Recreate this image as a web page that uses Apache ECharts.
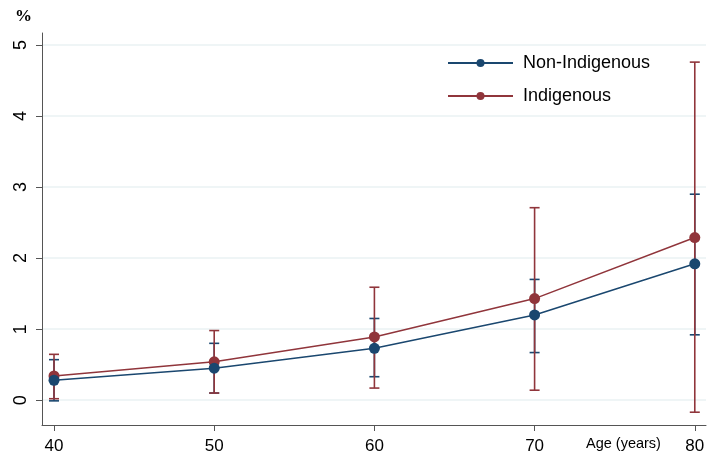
<!DOCTYPE html>
<html><head><meta charset="utf-8">
<script src="https://cdn.jsdelivr.net/npm/echarts@6/dist/echarts.min.js"></script>
<style>html,body{margin:0;padding:0;background:#fff}#c{width:717px;height:468px}</style>
</head><body><div id="c"></div>
<script>
const ages = [40, 50, 60, 70, 80];
const nonIndigenous = [0.28, 0.45, 0.73, 1.20, 1.92];
const nonIndigenousLow = [-0.01, 0.10, 0.33, 0.67, 0.92];
const nonIndigenousHigh = [0.57, 0.80, 1.15, 1.70, 2.90];
const indigenous = [0.34, 0.54, 0.89, 1.43, 2.29];
const indigenousLow = [0.02, 0.10, 0.17, 0.14, -0.17];
const indigenousHigh = [0.645, 0.98, 1.59, 2.71, 4.76];
const yTicks = [0, 1, 2, 3, 4, 5];
const xTicks = [40, 50, 60, 70, 80];

const BLUE = '#1a476f', RED = '#90353b';
const font = 'Arial, "Liberation Sans", sans-serif';

function errSeries(name, color, low, high) {
  return {
    type: 'custom', name: name + ' CI', silent: true, z: 1,
    data: ages.map((a, i) => [a, low[i], high[i]]),
    renderItem: function (params, api) {
      const lo = api.coord([api.value(0), api.value(1)]);
      const hi = api.coord([api.value(0), api.value(2)]);
      const w = 5;
      const st = { stroke: color, lineWidth: 1.6 };
      return { type: 'group', children: [
        { type: 'line', shape: { x1: lo[0], y1: lo[1], x2: hi[0], y2: hi[1] }, style: st },
        { type: 'line', shape: { x1: lo[0] - w, y1: lo[1], x2: lo[0] + w, y2: lo[1] }, style: st },
        { type: 'line', shape: { x1: hi[0] - w, y1: hi[1], x2: hi[0] + w, y2: hi[1] }, style: st }
      ]};
    }
  };
}

const chart = echarts.init(document.getElementById('c'));
chart.setOption({
  animation: false,
  backgroundColor: '#fff',
  grid: { left: 42, right: 11, top: 33, bottom: 43 },
  legend: {
    top: 54, left: 447, padding: 0, orient: 'vertical', itemGap: 15,
    itemWidth: 65, itemHeight: 10,
    textStyle: { fontFamily: font, fontSize: 18, color: '#000', padding: [0, 0, 0, 5] },
    data: ['Non-Indigenous', 'Indigenous']
  },
  graphic: [
    { type: 'text', left: 15, top: 8, style: { text: '%', font: 'bold 17px "Liberation Serif", serif', fill: '#000' } },
    { type: 'text', left: 586, top: 436, style: { text: 'Age (years)', font: '14.5px ' + font, fill: '#000' } }
  ],
  xAxis: {
    type: 'value', min: 39.25, max: 80.7,
    axisLine: { show: true, onZero: false, lineStyle: { color: '#555', width: 1 } },
    axisTick: { show: true, length: 6, lineStyle: { color: '#555' }, customValues: xTicks },
    axisLabel: { customValues: xTicks, fontFamily: font, fontSize: 17, color: '#000', margin: 13 },
    splitLine: { show: false }
  },
  yAxis: {
    type: 'value', min: -0.35, max: 5.17,
    axisLine: { show: true, onZero: false, lineStyle: { color: '#555', width: 1 } },
    axisTick: { show: true, length: 6, lineStyle: { color: '#555' }, customValues: yTicks },
    axisLabel: { customValues: yTicks, rotate: 90, fontFamily: font, fontSize: 18, color: '#000', margin: 12 },
    splitLine: { show: true, lineStyle: { color: '#eaf2f3', width: 1.5 } }
  },
  series: [
    errSeries('Non-Indigenous', BLUE, nonIndigenousLow, nonIndigenousHigh),
    errSeries('Indigenous', RED, indigenousLow, indigenousHigh),
    {
      type: 'line', name: 'Non-Indigenous', z: 3,
      data: ages.map((a, i) => [a, nonIndigenous[i]]),
      symbol: 'circle', symbolSize: 11,
      lineStyle: { color: BLUE, width: 1.5 }, itemStyle: { color: BLUE }
    },
    {
      type: 'line', name: 'Indigenous', z: 2,
      data: ages.map((a, i) => [a, indigenous[i]]),
      symbol: 'circle', symbolSize: 11,
      lineStyle: { color: RED, width: 1.5 }, itemStyle: { color: RED }
    }
  ]
});
</script></body></html>
